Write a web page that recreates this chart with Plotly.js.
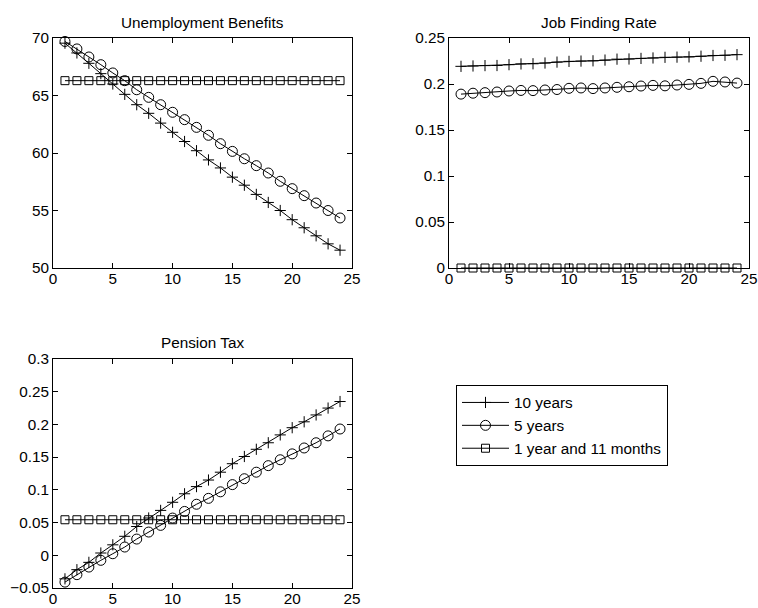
<!DOCTYPE html>
<html>
<head>
<meta charset="utf-8">
<script src="https://cdn.plot.ly/plotly-3.0.1.min.js"></script>
<style>html,body{margin:0;padding:0;background:#fff;}#chart{width:758px;height:608px;}</style>
</head>
<body>
<div id="chart"></div>
<script>
const periods = [1,2,3,4,5,6,7,8,9,10,11,12,13,14,15,16,17,18,19,20,21,22,23,24];
const seriesNames = ["10 years", "5 years", "1 year and 11 months"];
const panelTitles = ["Unemployment Benefits", "Job Finding Rate", "Pension Tax"];

const ubTenYears = [69.55,68.7,67.8,66.9,66.0,65.1,64.2,63.45,62.6,61.8,61.0,60.2,59.4,58.7,57.9,57.2,56.4,55.7,55.0,54.2,53.5,52.8,52.1,51.55];
const ubFiveYears = [69.7,69.05,68.35,67.68,66.96,66.29,65.5,64.84,64.2,63.54,62.9,62.23,61.54,60.81,60.14,59.5,58.9,58.26,57.54,56.9,56.29,55.65,55.0,54.35];
const ubOneYear = [66.29,66.29,66.29,66.29,66.29,66.29,66.29,66.29,66.29,66.29,66.29,66.29,66.29,66.29,66.29,66.29,66.29,66.29,66.29,66.29,66.29,66.29,66.29,66.29];

const jfTenYears = [0.2192,0.2196,0.2200,0.2201,0.2210,0.2218,0.2220,0.2228,0.2238,0.2246,0.2249,0.2252,0.2260,0.2270,0.2272,0.2278,0.2283,0.2290,0.2292,0.2295,0.2302,0.2310,0.2312,0.2319];
const jfFiveYears = [0.1890,0.1900,0.1906,0.1913,0.1924,0.1930,0.1928,0.1935,0.1940,0.1953,0.1957,0.1950,0.1957,0.1964,0.1970,0.1978,0.1985,0.1980,0.1989,0.1996,0.2007,0.2029,0.2022,0.2010];
const jfOneYear = [0,0,0,0,0,0,0,0,0,0,0,0,0,0,0,0,0,0,0,0,0,0,0,0];

const ptTenYears = [-0.036,-0.022,-0.0108,0.0035,0.016,0.029,0.044,0.057,0.0686,0.081,0.094,0.105,0.115,0.127,0.140,0.151,0.162,0.172,0.184,0.195,0.204,0.2145,0.225,0.235];
const ptFiveYears = [-0.041,-0.0296,-0.018,-0.0077,0.0024,0.0126,0.0248,0.0355,0.0457,0.0569,0.067,0.078,0.087,0.097,0.108,0.117,0.127,0.137,0.146,0.155,0.164,0.172,0.1825,0.193];
const ptOneYear = [0.0543,0.0543,0.0543,0.0543,0.0543,0.0543,0.0543,0.0543,0.0543,0.0543,0.0543,0.0543,0.0543,0.0543,0.0543,0.0543,0.0543,0.0543,0.0543,0.0543,0.0543,0.0543,0.0543,0.0543];

const xTicks = [0,5,10,15,20,25];
const ubTicks = [50,55,60,65,70];
const jfTicks = [0,0.05,0.1,0.15,0.2,0.25];
const jfTickText = ["0","0.05","0.1","0.15","0.2","0.25"];
const ptTicks = [-0.05,0,0.05,0.1,0.15,0.2,0.25,0.3];
const ptTickText = ["\u22120.05","0","0.05","0.1","0.15","0.2","0.25","0.3"];

const FONT = "Liberation Sans, Arial, Helvetica, sans-serif";
const FS = 15.3;
const markerStyles = [
  {symbol: "cross-thin-open", size: 8, color: "#000", line: {color: "#000", width: 1}},
  {symbol: "circle-open", size: 10, color: "#000", line: {color: "#000", width: 1}},
  {symbol: "square-open", size: 8, color: "#000", line: {color: "#000", width: 1}}
];

function makeTraces(ys, xa, ya, showLegend) {
  return ys.map((y, i) => ({
    type: "scatter", mode: "lines+markers", x: periods, y: y,
    name: seriesNames[i], xaxis: xa, yaxis: ya, showlegend: showLegend,
    line: {color: "#000", width: 1}, marker: markerStyles[i], cliponaxis: false
  }));
}

const data = [].concat(
  makeTraces([ubTenYears, ubFiveYears, ubOneYear], "x", "y", true),
  makeTraces([jfTenYears, jfFiveYears, jfOneYear], "x2", "y2", false),
  makeTraces([ptTenYears, ptFiveYears, ptOneYear], "x3", "y3", false)
);

const W = 758, H = 608;
function fx(px) { return px / W; }
function fy(py) { return 1 - py / H; }

function axisBase(extra) {
  return Object.assign({
    showgrid: false, zeroline: false, showline: true, linecolor: "#000", linewidth: 1,
    mirror: "ticks", ticks: "inside", ticklen: 5, tickcolor: "#000", tickwidth: 1,
    tickfont: {family: FONT, size: FS, color: "#000"}, fixedrange: true
  }, extra);
}

function titleAnn(text, px, py) {
  return {text: text, x: fx(px), y: fy(py), xref: "paper", yref: "paper", showarrow: false,
          xanchor: "center", yanchor: "middle", font: {family: FONT, size: FS, color: "#000"}};
}

const layout = {
  width: W, height: H,
  margin: {l: 0, r: 0, t: 0, b: 0},
  paper_bgcolor: "#fff", plot_bgcolor: "#fff",
  font: {family: FONT, size: FS, color: "#000"},
  xaxis: axisBase({domain: [fx(53), fx(352)], range: [0, 25], tickvals: xTicks, anchor: "y", ticklabelstandoff: -3}),
  yaxis: axisBase({domain: [fy(268), fy(38)], range: [50, 70], tickvals: ubTicks, anchor: "x"}),
  xaxis2: axisBase({domain: [fx(449), fx(749)], range: [0, 25], tickvals: xTicks, anchor: "y2", ticklabelstandoff: -3}),
  yaxis2: axisBase({domain: [fy(268), fy(38)], range: [0, 0.25], tickvals: jfTicks, ticktext: jfTickText, anchor: "x2"}),
  xaxis3: axisBase({domain: [fx(53), fx(352)], range: [0, 25], tickvals: xTicks, anchor: "y3", ticklabelstandoff: -3}),
  yaxis3: axisBase({domain: [fy(588), fy(359)], range: [-0.05, 0.3], tickvals: ptTicks, ticktext: ptTickText, anchor: "x3"}),
  showlegend: true,
  legend: {
    x: fx(456), y: fy(385), xanchor: "left", yanchor: "top",
    bordercolor: "#000", borderwidth: 1, bgcolor: "#fff",
    font: {family: FONT, size: FS, color: "#000"}, tracegroupgap: 0, itemwidth: 47
  },
  annotations: [
    titleAnn(panelTitles[0], 202.5, 22),
    titleAnn(panelTitles[1], 599, 22),
    titleAnn(panelTitles[2], 202.5, 342.5)
  ]
};

Plotly.newPlot("chart", data, layout, {displayModeBar: false, staticPlot: true});
</script>
</body>
</html>
